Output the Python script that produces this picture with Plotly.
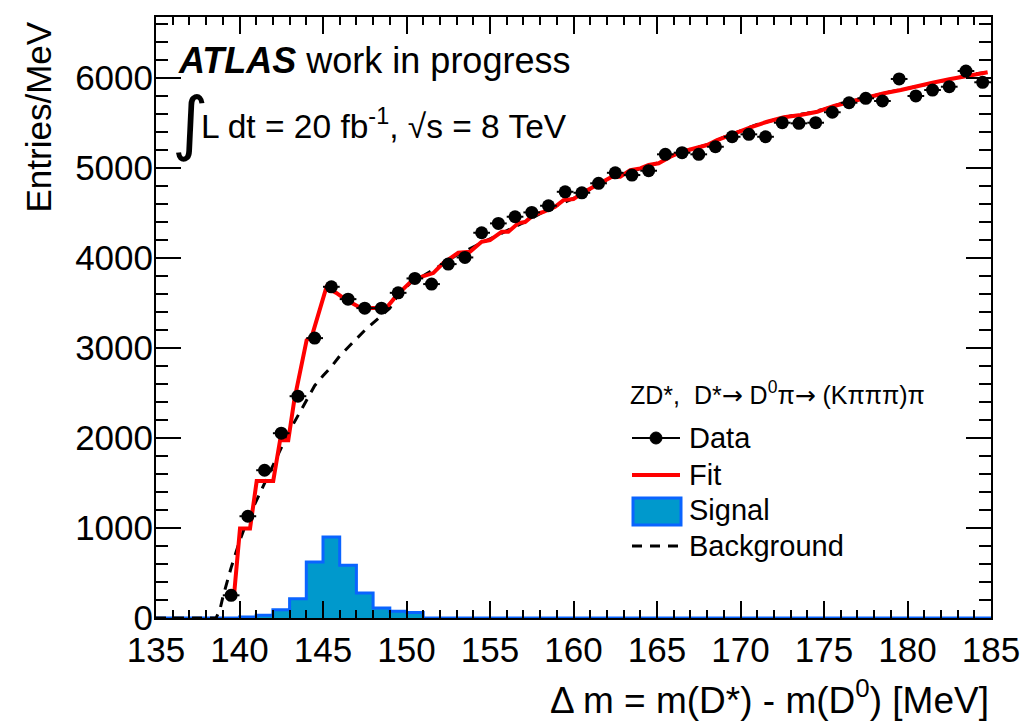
import plotly.graph_objects as go

# ---------------- data ----------------
data_x = [139.5, 140.5, 141.5, 142.5, 143.5, 144.5, 145.5, 146.5, 147.5, 148.5,
          149.5, 150.5, 151.5, 152.5, 153.5, 154.5, 155.5, 156.5, 157.5, 158.5,
          159.5, 160.5, 161.5, 162.5, 163.5, 164.5, 165.5, 166.5, 167.5, 168.5,
          169.5, 170.5, 171.5, 172.5, 173.5, 174.5, 175.5, 176.5, 177.5, 178.5,
          179.5, 180.5, 181.5, 182.5, 183.5, 184.5]
data_y = [252, 1130, 1641, 2052, 2463, 3108, 3678, 3541, 3441, 3441,
          3611, 3771, 3708, 3930, 4004, 4278, 4382, 4456, 4504, 4578,
          4733, 4722, 4827, 4944, 4919, 4967, 5149, 5167, 5149, 5233,
          5344, 5371, 5344, 5500, 5493, 5500, 5616, 5722, 5771, 5741,
          5986, 5797, 5863, 5900, 6074, 5949]

fit_x = [139.69, 140.03, 140.63, 141.03, 142.02, 142.43, 142.92, 143.28, 144.02, 144.32,
         145.2, 145.8, 146.4, 147.3, 148.8, 149.4, 150.4, 151.2, 151.6, 152.2,
         153.1, 153.8, 154.5, 155.0, 155.7, 156.1, 156.7, 157.1, 157.6, 158.2,
         158.9, 159.4, 160.0, 160.5, 161.1, 161.8, 162.3, 162.8, 163.4, 164.0,
         164.5, 165.1, 165.8, 166.5, 167.2, 168.0, 168.6, 169.6, 170.6, 171.6,
         172.6, 173.6, 174.6, 175.6, 176.6, 177.6, 178.6, 179.6, 180.6, 181.5,
         182.5, 183.5, 184.5, 184.8]
fit_y = [289, 993, 993, 1522, 1522, 1974, 1974, 2419, 3086, 3122,
         3670, 3610, 3530, 3440, 3445, 3580, 3760, 3808, 3830, 3941,
         4056, 4067, 4178, 4197, 4289, 4289, 4386, 4397, 4474, 4511,
         4567, 4641, 4652, 4716, 4774, 4844, 4900, 4900, 4974, 4993,
         5030, 5049, 5122, 5178, 5216, 5252, 5308, 5382, 5449, 5511,
         5560, 5586, 5622, 5686, 5733, 5782, 5827, 5863, 5900, 5944,
         5982, 6019, 6060, 6060]

bkg_x = [135.0, 138.6, 138.83, 139.0, 139.5, 140.0, 140.5, 141.0, 141.5, 142.0,
         142.5, 143.0, 143.5, 144.0, 144.5, 145.0, 145.5, 146.0, 146.5, 147.0,
         147.5, 148.0, 148.5, 149.0, 149.5, 150.0, 150.5, 151.0, 152.0, 153.0,
         154.0, 155.0, 156.0, 157.0, 158.0, 159.0, 160.0, 161.0, 162.0, 163.0,
         164.0, 165.0, 166.0, 167.0, 168.0, 169.0, 170.0, 171.0, 172.0, 173.0,
         174.0, 175.0, 176.0, 177.0, 178.0, 179.0, 180.0, 181.0, 182.0, 183.0,
         184.0, 185.0]
bkg_y = [0, 0, 93, 230, 560, 850, 1100, 1300, 1490, 1690,
         1890, 2080, 2250, 2420, 2580, 2690, 2790, 2910, 3010, 3100,
         3195, 3280, 3360, 3440, 3590, 3680, 3765, 3800, 3910, 4030,
         4120, 4210, 4300, 4390, 4490, 4580, 4660, 4760, 4860, 4930,
         4990, 5050, 5140, 5205, 5255, 5340, 5410, 5480, 5530, 5575,
         5605, 5650, 5710, 5755, 5800, 5845, 5880, 5920, 5965, 6000,
         6040, 6065]

sig_lo = [135, 136, 137, 138, 139, 140, 141, 142, 143, 144,
          145, 146, 147, 148, 149, 150, 151, 152, 153, 154,
          155, 156, 157, 158, 159, 160, 161, 162, 163, 164,
          165, 166, 167, 168, 169, 170, 171, 172, 173, 174,
          175, 176, 177, 178, 179, 180, 181, 182, 183, 184]
sig_val = [0, 0, 0, 0, 0, 10, 30, 93, 215, 622,
           900, 586, 278, 111, 74, 60, 0, 0, 0, 0,
           0, 0, 0, 0, 0, 0, 0, 0, 0, 0,
           0, 0, 0, 0, 0, 0, 0, 0, 0, 0,
           0, 0, 0, 0, 0, 0, 0, 0, 0, 0]
sig_hi_edge = 185

x_ticks = [135, 140, 145, 150, 155, 160, 165, 170, 175, 180, 185]
y_ticks = [0, 1000, 2000, 3000, 4000, 5000, 6000]

# ---------------- layout helpers (pixel -> paper) ----------------
W, H = 1026, 721
L, R, T, B = 156, 991, 17, 618


def px(p):
    return (p - L) / (R - L)


def py(p):
    return (B - p) / (B - T)


FONT = "Liberation Sans, Arial, Helvetica, sans-serif"
ARROW = "<span style='font-family:DejaVu Sans'>→</span>"
SIG_FILL = "#0099cc"
SIG_LINE = "#0a64ff"

fig = go.Figure()

# signal histogram (step, filled)
fig.add_trace(go.Scatter(
    x=sig_lo + [sig_hi_edge], y=sig_val + [sig_val[-1]],
    mode="lines", line=dict(shape="hv", color=SIG_LINE, width=3),
    fill="tozeroy", fillcolor=SIG_FILL, showlegend=False, hoverinfo="skip",
    cliponaxis=False))

# background
fig.add_trace(go.Scatter(
    x=bkg_x, y=bkg_y, mode="lines",
    line=dict(color="black", width=3, dash="10px,8px"),
    showlegend=False, hoverinfo="skip"))

# fit
fig.add_trace(go.Scatter(
    x=fit_x, y=fit_y, mode="lines",
    line=dict(color="#ff0000", width=4),
    showlegend=False, hoverinfo="skip"))

# data
fig.add_trace(go.Scatter(
    x=data_x, y=data_y, mode="markers",
    marker=dict(color="black", size=13, symbol="circle"),
    error_x=dict(type="constant", value=0.5, width=0, thickness=2, color="black"),
    showlegend=False))

axis_common = dict(
    showline=True, linecolor="black", linewidth=2, mirror="ticks",
    ticks="inside", tickcolor="black", tickwidth=2,
    showgrid=False, zeroline=False, automargin=False,
    tickfont=dict(family=FONT, size=35, color="black"),
)

fig.update_xaxes(range=[135, 185], tickvals=x_ticks, ticklen=17,
                 minor=dict(dtick=1, ticks="inside", ticklen=8, tickwidth=2,
                            tickcolor="black", showgrid=False),
                 ticklabelstandoff=0, **axis_common)
fig.update_yaxes(range=[0, 6674], tickvals=y_ticks, ticklen=25,
                 minor=dict(dtick=200, ticks="inside", ticklen=12, tickwidth=2,
                            tickcolor="black", showgrid=False),
                 ticklabelstandoff=-6, **axis_common)

ann = []
# axis titles
ann.append(dict(text="Entries/MeV", x=px(38), y=py(20), xref="paper", yref="paper",
                xanchor="center", yanchor="top", textangle=-90, showarrow=False,
                font=dict(family=FONT, size=35, color="black")))
ann.append(dict(text="Δ m = m(D*) - m(D<sup>0</sup>) [MeV]", x=px(991), y=py(698),
                xref="paper", yref="paper", xanchor="right", yanchor="middle",
                showarrow=False, font=dict(family=FONT, size=37, color="black")))
# ATLAS label
ann.append(dict(text="<b><i>ATLAS</i></b> work in progress", x=px(176), y=py(60),
                xref="paper", yref="paper", xanchor="left", yanchor="middle",
                showarrow=False, font=dict(family=FONT, size=36, color="black")))
ann.append(dict(text="∫", x=px(170), y=py(123), xref="paper", yref="paper",
                xanchor="left", yanchor="middle", showarrow=False,
                font=dict(family="DejaVu Sans, sans-serif", size=70, color="black")))
ann.append(dict(text="L dt = 20 fb<sup>-1</sup>, √s = 8 TeV", x=px(199), y=py(124),
                xref="paper", yref="paper", xanchor="left", yanchor="middle",
                showarrow=False, font=dict(family=FONT, size=33.5, color="black")))
# legend header
ann.append(dict(text="ZD*,  D*" + ARROW + " D<sup>0</sup>π" + ARROW + " (Kπππ)π",
                x=px(628), y=py(393),
                xref="paper", yref="paper", xanchor="left", yanchor="middle",
                showarrow=False, font=dict(family=FONT, size=25, color="black")))

leg_rows = [("Data", 438), ("Fit", 475), ("Signal", 510), ("Background", 546)]
for label, yy in leg_rows:
    ann.append(dict(text=label, x=px(687), y=py(yy), xref="paper", yref="paper",
                    xanchor="left", yanchor="middle", showarrow=False,
                    font=dict(family=FONT, size=29, color="black")))

shapes = [
    dict(type="line", xref="paper", yref="paper", x0=px(632), x1=px(680),
         y0=py(438), y1=py(438), line=dict(color="black", width=2)),
    dict(type="circle", xref="paper", yref="paper", x0=px(650), x1=px(662),
         y0=py(444), y1=py(432), fillcolor="black", line=dict(color="black", width=1)),
    dict(type="line", xref="paper", yref="paper", x0=px(632), x1=px(680),
         y0=py(475), y1=py(475), line=dict(color="#ff0000", width=4)),
    dict(type="rect", xref="paper", yref="paper", x0=px(633), x1=px(681),
         y0=py(525), y1=py(498), fillcolor=SIG_FILL, line=dict(color=SIG_LINE, width=3)),
    dict(type="line", xref="paper", yref="paper", x0=px(632), x1=px(680),
         y0=py(546), y1=py(546), line=dict(color="black", width=3, dash="10px,8px")),
]

fig.update_layout(
    width=W, height=H, autosize=False,
    margin=dict(l=L, r=W - R, t=T, b=H - B, pad=0),
    paper_bgcolor="white", plot_bgcolor="white",
    showlegend=False,
    annotations=ann, shapes=shapes,
    font=dict(family=FONT, color="black"),
)

fig.write_html("out.html",
               config={"displayModeBar": False},
               post_script="document.body.style.margin='0px';"
                           "document.body.style.overflow='hidden';")
